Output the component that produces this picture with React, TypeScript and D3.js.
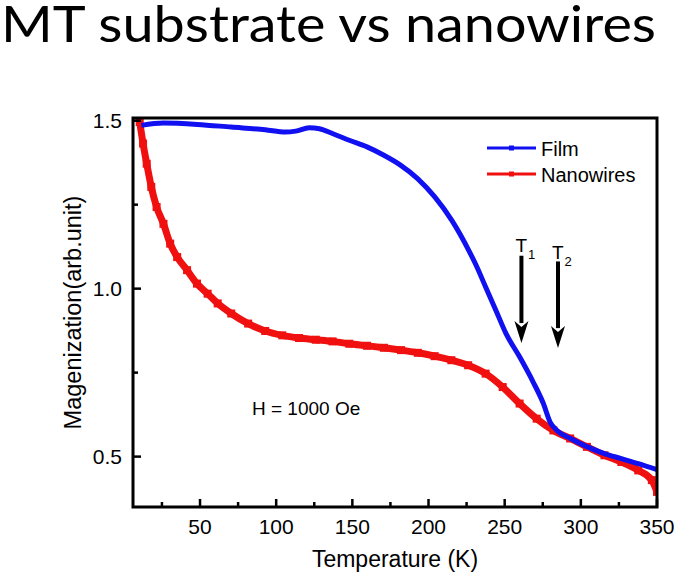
import React from 'react';
import * as d3 from 'd3';

const titleText = 'MT substrate vs nanowires';
const xLabel = 'Temperature (K)';
const yLabel = 'Magenization(arb.unit)';
const fieldNote = 'H = 1000 Oe';
const seriesNames = ['Film', 'Nanowires'];
const seriesColors = ['#1010f0', '#f01010'];

const xTicks = [50, 100, 150, 200, 250, 300, 350];
const xMinorTicks = [25, 75, 125, 175, 225, 275, 325];
const yTicks = [0.5, 1.0, 1.5];
const yMinorTicks = [0.75, 1.25];

const filmT = [11.5, 25.9, 48.2, 70.5, 92.8, 106.1, 112.8, 121.7, 128.4, 137.3, 148.4, 159.6, 170.7, 181.8, 193, 204.1, 215.3, 226.4, 230.8, 237.5, 244.2, 250.9, 259.8, 268.7, 275.4, 279.8, 284.3, 293.2, 304.3, 315.5, 326.6, 337.7, 350];
const filmM = [1.486, 1.493, 1.489, 1.481, 1.473, 1.466, 1.469, 1.479, 1.476, 1.461, 1.441, 1.422, 1.397, 1.367, 1.327, 1.273, 1.203, 1.114, 1.074, 1.005, 0.936, 0.866, 0.797, 0.722, 0.658, 0.603, 0.578, 0.554, 0.529, 0.509, 0.494, 0.479, 0.461];

const wireT = [10.4, 12.6, 15, 18, 21.5, 26, 30.4, 35, 41.5, 48, 55, 61.6, 70.5, 81.6, 92.8, 104, 115, 126, 137, 148, 159.6, 170.7, 182, 193, 204, 215, 226, 237.5, 248.7, 259.8, 271, 282, 293, 304, 315.5, 326.6, 337.7, 346.6, 350];
const wireM = [1.496, 1.432, 1.372, 1.303, 1.243, 1.193, 1.134, 1.094, 1.055, 1.015, 0.985, 0.956, 0.926, 0.896, 0.874, 0.861, 0.853, 0.848, 0.843, 0.836, 0.830, 0.824, 0.817, 0.809, 0.799, 0.787, 0.772, 0.747, 0.707, 0.658, 0.613, 0.578, 0.554, 0.529, 0.504, 0.484, 0.459, 0.430, 0.395];

// transition markers: [temperature, top M, tip M]
const arrowLabels = ['1', '2'];
const arrowT = [261, 285];
const arrowTopM = [1.098, 1.081];
const arrowTipM = [0.838, 0.823];

const W = 675;
const H = 577;
const plot = { left: 133, right: 657, top: 118, bottom: 507 };
const FONT = '"Liberation Sans", Arial, sans-serif';

export default function App() {
  const x = d3.scaleLinear().domain([6, 350]).range([plot.left, plot.right]);
  const y = d3.scaleLinear().domain([0.35, 1.508]).range([plot.bottom, plot.top]);

  const line = d3
    .line<[number, number]>()
    .x((d) => x(d[0]))
    .y((d) => y(d[1]))
    .curve(d3.curveMonotoneX);

  const filmData: [number, number][] = filmT.map((t, i) => [t, filmM[i]]);
  const wireData: [number, number][] = wireT.map((t, i) => [t, wireM[i]]);

  const legendX0 = 487;
  const legendX1 = 536;
  const legendY = [148, 174];

  return (
    <svg
      width={W}
      height={H}
      viewBox={`0 0 ${W} ${H}`}
      style={{ position: 'absolute', left: 0, top: 0, background: '#fff' }}
    >
      <rect x={0} y={0} width={W} height={H} fill="#fff" />
      <text
        x={1}
        y={42}
        fontFamily="Lato, 'Open Sans', sans-serif"
        fontSize={51}
        fill="#000"
        textLength={655}
        lengthAdjust="spacingAndGlyphs"
      >
        {titleText}
      </text>

      <defs>
        <clipPath id="plotClip">
          <rect x={plot.left} y={plot.top} width={plot.right - plot.left} height={plot.bottom - plot.top} />
        </clipPath>
      </defs>

      <g clipPath="url(#plotClip)">
        <path d={line(wireData) || ''} fill="none" stroke={seriesColors[1]} strokeWidth={7} />
        {wireData.map((d, i) => (
          <rect key={i} x={x(d[0]) - 4} y={y(d[1]) - 4} width={8} height={8} fill={seriesColors[1]} />
        ))}
        <path d={line(filmData) || ''} fill="none" stroke={seriesColors[0]} strokeWidth={5} />
      </g>

      {/* frame */}
      <rect
        x={plot.left}
        y={plot.top}
        width={plot.right - plot.left}
        height={plot.bottom - plot.top}
        fill="none"
        stroke="#000"
        strokeWidth={3}
      />

      {/* x ticks */}
      {xTicks.map((t) => (
        <g key={'xt' + t}>
          <line x1={x(t)} x2={x(t)} y1={plot.bottom} y2={plot.bottom - 8} stroke="#000" strokeWidth={2.5} />
          <text x={x(t)} y={534} textAnchor="middle" fontFamily={FONT} fontSize={21} fill="#000">
            {t}
          </text>
        </g>
      ))}
      {xMinorTicks.map((t) => (
        <line key={'xm' + t} x1={x(t)} x2={x(t)} y1={plot.bottom} y2={plot.bottom - 5} stroke="#000" strokeWidth={2.5} />
      ))}

      {/* y ticks */}
      {yTicks.map((t) => (
        <g key={'yt' + t}>
          <line x1={plot.left} x2={plot.left + 8} y1={y(t)} y2={y(t)} stroke="#000" strokeWidth={2.5} />
          <text x={122} y={y(t) + 7.5} textAnchor="end" fontFamily={FONT} fontSize={21} fill="#000">
            {t.toFixed(1)}
          </text>
        </g>
      ))}
      {yMinorTicks.map((t) => (
        <line key={'ym' + t} x1={plot.left} x2={plot.left + 5} y1={y(t)} y2={y(t)} stroke="#000" strokeWidth={2.5} />
      ))}

      {/* axis titles */}
      <text
        x={(plot.left + plot.right) / 2}
        y={567}
        textAnchor="middle"
        fontFamily={FONT}
        fontSize={23}
        fill="#000"
      >
        {xLabel}
      </text>
      <text
        transform={`translate(81, ${(plot.top + plot.bottom) / 2}) rotate(-90)`}
        textAnchor="middle"
        fontFamily={FONT}
        fontSize={23.5}
        fill="#000"
      >
        {yLabel}
      </text>

      {/* legend */}
      {seriesNames.map((name, i) => (
        <g key={name}>
          <line x1={legendX0} x2={legendX1} y1={legendY[i]} y2={legendY[i]} stroke={seriesColors[i]} strokeWidth={3} />
          <rect x={(legendX0 + legendX1) / 2 - 2.5} y={legendY[i] - 2.5} width={5} height={5} fill={seriesColors[i]} />
          <text x={541} y={legendY[i] + 7.5} fontFamily={FONT} fontSize={20} fill="#000">
            {name}
          </text>
        </g>
      ))}

      {/* field annotation */}
      <text x={252} y={415} fontFamily={FONT} fontSize={19} fill="#000">
        {fieldNote}
      </text>

      {/* transition arrows */}
      {arrowT.map((t, i) => {
        const ax = x(t);
        const top = y(arrowTopM[i]);
        const tip = y(arrowTipM[i]);
        const headLen = 22;
        return (
          <g key={'arr' + i}>
            <line x1={ax} x2={ax} y1={top} y2={tip - headLen + 2} stroke="#000" strokeWidth={4} />
            <path
              d={`M${ax - 7},${tip - headLen} L${ax},${tip - headLen + 6} L${ax + 7},${tip - headLen} L${ax},${tip} Z`}
              fill="#000"
            />
            <text x={ax - 6} y={top - 4 + i * 1.5} fontFamily={FONT} fontSize={19} fill="#000">
              T
              <tspan fontSize={13} dx={1} dy={7}>
                {arrowLabels[i]}
              </tspan>
            </text>
          </g>
        );
      })}
    </svg>
  );
}
